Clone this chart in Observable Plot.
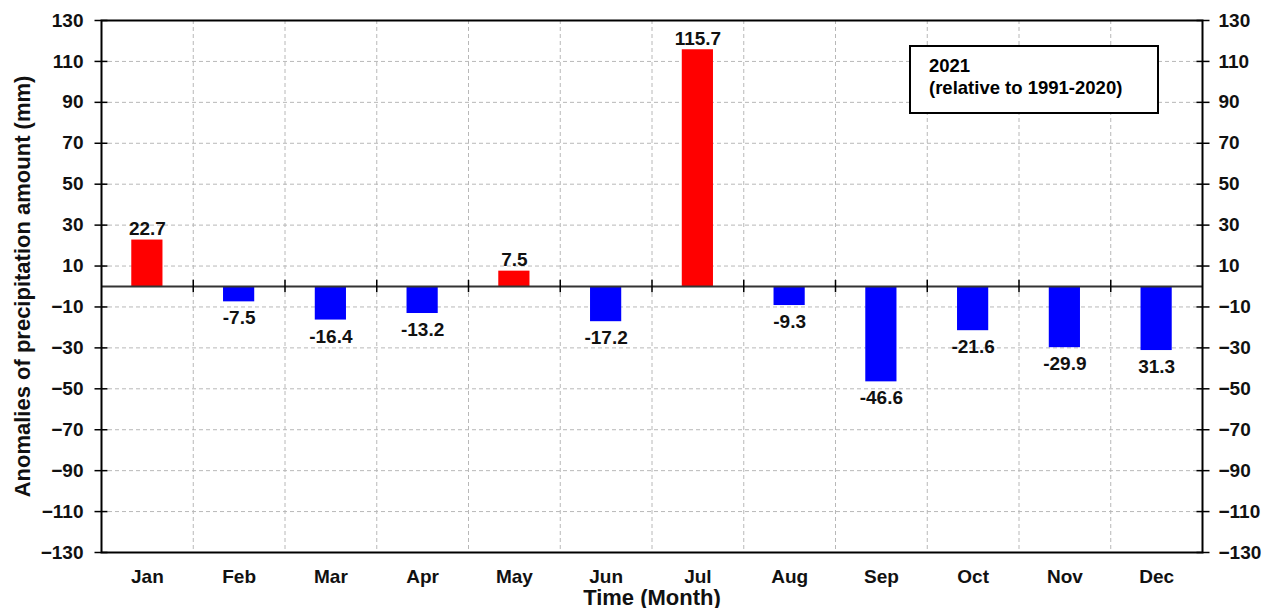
<!DOCTYPE html>
<html>
<head>
<meta charset="utf-8">
<script src="https://cdn.jsdelivr.net/npm/d3@7"></script>
<script src="https://cdn.jsdelivr.net/npm/@observablehq/plot@0.6"></script>
<style>
  body { margin: 0; background: #fff; }
  #wrap { position: relative; width: 1268px; height: 608px; font-family: "Liberation Sans", Arial, sans-serif; }
  #legend {
    position: absolute; left: 909px; top: 45px; width: 250px; height: 69px;
    border: 2px solid #000; background: #fff; box-sizing: border-box;
    font-weight: bold; font-size: 18.5px; line-height: 22px; color: #000;
    padding: 8px 0 0 18px;
  }
  svg text { font-family: "Liberation Sans", Arial, sans-serif; }
</style>
</head>
<body>
<div id="wrap"></div>
<script>
const months = ["Jan","Feb","Mar","Apr","May","Jun","Jul","Aug","Sep","Oct","Nov","Dec"];
const values = [22.7, -7.5, -16.4, -13.2, 7.5, -17.2, 115.7, -9.3, -46.6, -21.6, -29.9, -31.3];
const valueLabels = ["22.7","-7.5","-16.4","-13.2","7.5","-17.2","115.7","-9.3","-46.6","-21.6","-29.9","31.3"];
const yTicks = [130,110,90,70,50,30,10,-10,-30,-50,-70,-90,-110,-130];
const legendLines = ["2021", "(relative to 1991-2020)"];
const xTitle = "Time (Month)";
const yTitle = "Anomalies of precipitation amount (mm)";

const data = months.map((m, i) => ({month: m, value: values[i], label: valueLabels[i]}));

const W = 1268, H = 608;
const mL = 101, mR = 66, mT = 20, mB = 56;
const step = (W - mL - mR) / months.length;
const gridTicks = yTicks.filter(t => Math.abs(t) !== 130);
const boundaries = months.slice(0, -1);
const txt = "#111";

const chart = Plot.plot({
  width: W, height: H,
  marginLeft: mL, marginRight: mR, marginTop: mT, marginBottom: mB,
  style: {fontFamily: '"Liberation Sans", Arial, sans-serif', background: "#fff", overflow: "visible"},
  x: {domain: months, paddingInner: 0.66, paddingOuter: 0.33, round: false, axis: null},
  y: {domain: [-130, 130], axis: null},
  marks: [
    // grid
    Plot.ruleY(gridTicks, {y: d => d, stroke: "#b8b8b8", strokeDasharray: "4,3", strokeWidth: 1}),
    Plot.ruleX(boundaries, {x: d => d, dx: step / 2, stroke: "#b8b8b8", strokeDasharray: "4,3", strokeWidth: 1}),
    // bars
    Plot.barY(data, {x: "month", y: "value", fill: d => d.value >= 0 ? "#ff0000" : "#0000ff"}),
    // zero line and its ticks
    Plot.ruleY([0], {stroke: "#333", strokeWidth: 2}),
    Plot.ruleX(boundaries, {x: d => d, dx: step / 2, y1: -3, y2: 3, stroke: "#000", strokeWidth: 1.5}),
    // value labels
    Plot.text(data.filter(d => d.value >= 0), {x: "month", y: "value", text: "label", lineAnchor: "bottom", dy: -5,
      fontSize: 19, fontWeight: "bold", fill: txt}),
    Plot.text(data.filter(d => d.value < 0), {x: "month", y: "value", text: "label", lineAnchor: "top", dy: 9,
      fontSize: 19, fontWeight: "bold", fill: txt}),
    // frame
    Plot.frame({stroke: "#000", strokeWidth: 2}),
    // y axes: labels
    Plot.axisY(yTicks, {anchor: "left", tickSize: 0, tickPadding: 18, fontSize: 19, fontWeight: "bold", fill: txt, label: null}),
    Plot.axisY(yTicks, {anchor: "right", tickSize: 0, tickPadding: 16, fontSize: 19, fontWeight: "bold", fill: txt, label: null}),
    // y axes: crossing ticks
    Plot.axisY(yTicks, {anchor: "left", tickSize: 13, dx: 6.5, text: null, stroke: "#000", strokeWidth: 1.5, label: null}),
    Plot.axisY(yTicks, {anchor: "right", tickSize: 13, dx: -6.5, text: null, stroke: "#000", strokeWidth: 1.5, label: null}),
    // x axis labels
    Plot.axisX(months, {anchor: "bottom", tickSize: 0, tickPadding: 17, fontSize: 19, fontWeight: "bold", fill: txt, label: null}),
    // titles
    Plot.text([xTitle], {text: d => d, frameAnchor: "bottom", lineAnchor: "middle", dy: 45, fontSize: 22, fontWeight: "bold", fill: txt}),
    Plot.text([yTitle], {text: d => d, frameAnchor: "left", textAnchor: "middle", lineAnchor: "middle", dx: -79, rotate: -90, fontSize: 22, fontWeight: "bold", fill: txt})
  ]
});

const wrap = document.getElementById("wrap");
wrap.appendChild(chart);
const legend = document.createElement("div");
legend.id = "legend";
legend.innerHTML = legendLines.map(l => `<div>${l}</div>`).join("");
wrap.appendChild(legend);
</script>
</body>
</html>
